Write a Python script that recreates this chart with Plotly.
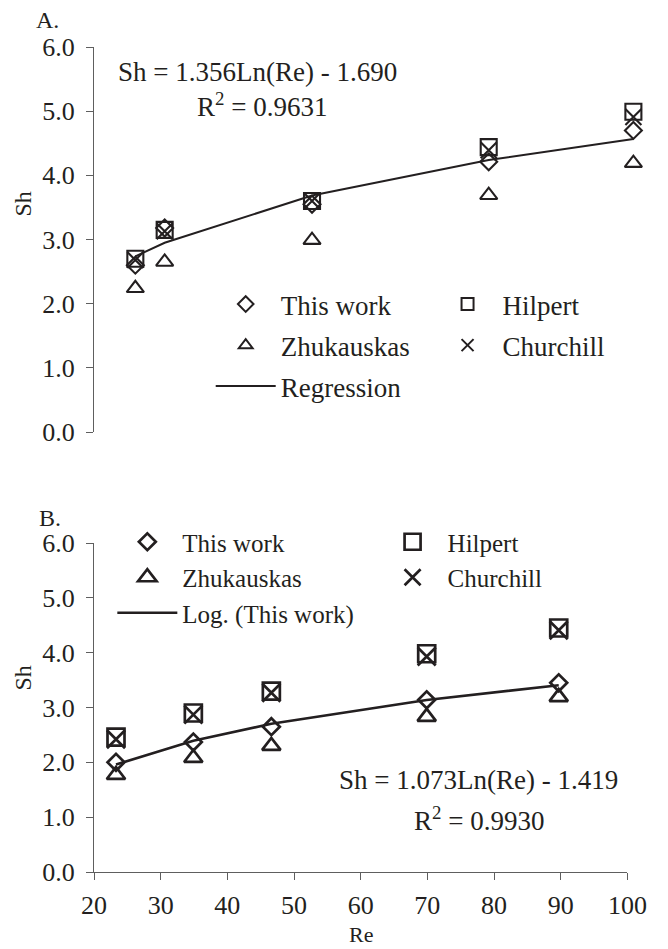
import numpy as np
import plotly.graph_objects as go

# ---------------- data ----------------
# Panel A
re_a = [26.2, 30.6, 52.7, 79.2, 100.9]
sh_a_this = [2.60, 3.18, 3.55, 4.21, 4.70]
sh_a_hilpert = [2.70, 3.15, 3.60, 4.44, 4.99]
sh_a_zhuk = [2.24, 2.65, 2.99, 3.69, 4.19]
sh_a_church = [2.68, 3.13, 3.60, 4.39, 4.91]
coef_a = (1.356, -1.690)

# Panel B
re_b = [23.3, 34.9, 46.6, 69.9, 89.7]
sh_b_this = [2.00, 2.37, 2.65, 3.14, 3.45]
sh_b_hilpert = [2.46, 2.90, 3.30, 3.98, 4.45]
sh_b_zhuk = [1.77, 2.08, 2.30, 2.83, 3.19]
sh_b_church = [2.42, 2.87, 3.27, 3.93, 4.41]
coef_b = (1.073, -1.419)

x_range = [20, 100]
x_ticks = [20, 30, 40, 50, 60, 70, 80, 90, 100]
y_ticks = [0, 1, 2, 3, 4, 5, 6]

# fitted values of the printed regressions at the observed Re
fit_a = [coef_a[0] * np.log(r) + coef_a[1] for r in re_a]
fit_b = [coef_b[0] * np.log(r) + coef_b[1] for r in re_b]

# ---------------- style / layout (page pixels) ----------------
INK = "#231f20"
AX = "#5e5e5e"
FONT = "Liberation Serif"
OFF = 8                      # default body margin of the page
W, H = 668 - OFF, 949 - OFF
P_LEFT, P_RIGHT = 94, 658    # page x of plot area (data axis for panel A reaches 658)
P_TOP, P_BOTTOM = 47, 872    # page y of plot area
AXIS_RIGHT = 647             # page x of the Re = 100 tick
ML, MT = P_LEFT - OFF, P_TOP - OFF
MR, MB = W - (P_RIGHT - OFF), H - (P_BOTTOM - OFF)
PW, PH = P_RIGHT - P_LEFT, P_BOTTOM - P_TOP
frac = (AXIS_RIGHT - P_LEFT) / PW
x3_end = x_range[0] + (x_range[1] - x_range[0]) / frac


def px(xp):
    return (xp - P_LEFT) / PW


def py(yp):
    return (P_BOTTOM - yp) / PH


fig = go.Figure()


def add_panel(xa, ya, re, this, hil, zhu, chu, fit, fitname, legs, lw, sizes, flw):
    common = dict(mode="markers", xaxis=xa, yaxis=ya, cliponaxis=False)
    fig.add_trace(go.Scatter(x=re, y=fit, mode="lines", xaxis=xa, yaxis=ya,
                             line=dict(color=INK, width=flw), name=fitname,
                             legend=legs[2], legendgroup="f" + xa, legendrank=3))
    fig.add_trace(go.Scatter(x=re, y=zhu, name="Zhukauskas", legend=legs[0],
                             legendgroup="z" + xa, legendrank=2,
                             marker=dict(symbol="triangle-up-open", size=sizes[2], color=INK,
                                         line=dict(width=lw, color=INK)), **common))
    fig.add_trace(go.Scatter(x=re, y=hil, name="Hilpert", legend=legs[1],
                             legendgroup="h" + xa, legendrank=1,
                             marker=dict(symbol="square-open", size=sizes[1], color=INK,
                                         line=dict(width=lw, color=INK)), **common))
    fig.add_trace(go.Scatter(x=re, y=chu, name="Churchill", legend=legs[1],
                             legendgroup="c" + xa, legendrank=2,
                             marker=dict(symbol="x-thin-open", size=sizes[3], color=INK,
                                         line=dict(width=lw, color=INK)), **common))
    fig.add_trace(go.Scatter(x=re, y=this, name="This work", legend=legs[0],
                             legendgroup="t" + xa, legendrank=1,
                             marker=dict(symbol="diamond-open", size=sizes[0], color=INK,
                                         line=dict(width=lw, color=INK)), **common))


add_panel("x3", "y", re_a, sh_a_this, sh_a_hilpert, sh_a_zhuk, sh_a_church, fit_a,
          "Regression", ("legend", "legend2", "legend5"), 2.1, (13, 16, 15, 16), 2.0)
add_panel("x2", "y2", re_b, sh_b_this, sh_b_hilpert, sh_b_zhuk, sh_b_church, fit_b,
          "Log. (This work)", ("legend3", "legend4", "legend3"), 2.7, (13, 17, 16, 18), 2.6)

axis_common = dict(showline=True, linecolor=AX, linewidth=1.2, ticks="outside", ticklen=7,
                   tickcolor=AX, tickwidth=1.2, showgrid=False, zeroline=False,
                   tickfont=dict(family=FONT, size=26, color=INK))

fig.update_layout(
    width=W, height=H,
    margin=dict(l=ML, r=MR, t=MT, b=MB),
    plot_bgcolor="white", paper_bgcolor="white",
    font=dict(family=FONT, color=INK),
    xaxis=dict(domain=[0, frac], range=x_range, tickvals=x_ticks, showticklabels=False,
               anchor="y", **axis_common),
    xaxis3=dict(domain=[0, 1], range=[x_range[0], x3_end], overlaying="x", anchor="y",
                visible=False),
    yaxis=dict(domain=[py(432), 1], range=[0, 6], tickvals=y_ticks, tickformat=".1f",
               anchor="x", ticklabelstandoff=6, **axis_common),
    xaxis2=dict(domain=[0, frac], range=x_range, tickvals=x_ticks, anchor="y2",
                ticklabelstandoff=3, **axis_common),
    yaxis2=dict(domain=[0, py(543)], range=[0, 6], tickvals=y_ticks, tickformat=".1f",
                anchor="x2", ticklabelstandoff=6, **axis_common),
)

leg_common = dict(bgcolor="rgba(0,0,0,0)", itemwidth=60, traceorder="grouped",
                  xanchor="left", yanchor="top")
font_a = dict(family=FONT, size=27, color=INK)
font_b = dict(family=FONT, size=25, color=INK)
fig.update_layout(
    legend=dict(x=px(215), y=py(280), tracegroupgap=3, font=font_a,
                itemsizing="constant", **leg_common),
    legend2=dict(x=px(445), y=py(280), tracegroupgap=3, font=font_a,
                 itemsizing="constant", **leg_common),
    legend5=dict(x=px(215), y=py(362), font=font_a, itemsizing="trace", **leg_common),
    legend3=dict(x=px(113), y=py(519), tracegroupgap=0, font=font_b,
                 itemsizing="trace", **leg_common),
    legend4=dict(x=px(388), y=py(519), tracegroupgap=0, font=font_b,
                 itemsizing="trace", **leg_common),
)

ann = [
    dict(text="A.", x=px(46), y=py(20), size=24),
    dict(text="B.", x=px(48), y=py(518), size=24),
    dict(text="Sh = 1.356Ln(Re) - 1.690", x=px(263), y=py(72)),
    dict(text="R<sup>2</sup> = 0.9631", x=px(268), y=py(105)),
    dict(text="Sh = 1.073Ln(Re) - 1.419", x=px(493), y=py(780)),
    dict(text="R<sup>2</sup> = 0.9930", x=px(493), y=py(819)),
    dict(text="Sh", x=px(20), y=py(204), textangle=-90, size=24),
    dict(text="Sh", x=px(20), y=py(678), textangle=-90, size=24),
    dict(text="Re", x=px(371), y=py(934), size=22),
]
for a in ann:
    size = a.pop("size", 27)
    fig.add_annotation(xref="paper", yref="paper", showarrow=False,
                       xanchor="center", yanchor="middle",
                       font=dict(family=FONT, size=size, color=INK), **a)

fig.write_html("out.html")
